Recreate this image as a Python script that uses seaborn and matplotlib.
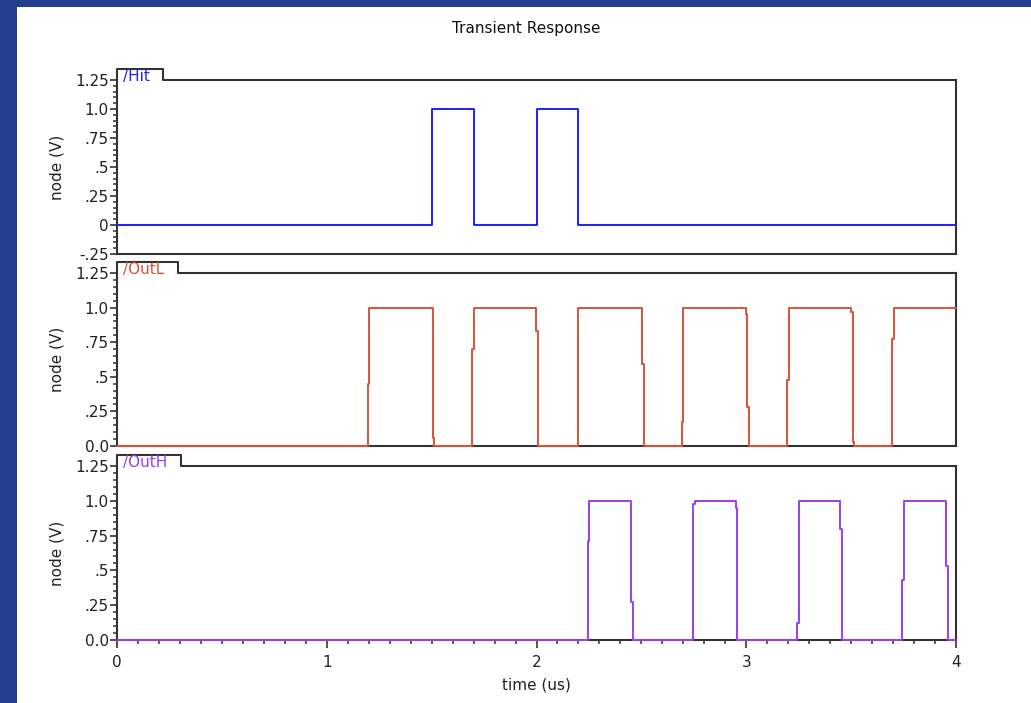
import numpy as np
import pandas as pd
import matplotlib
matplotlib.use("Agg")
import matplotlib.pyplot as plt
import seaborn as sns
from matplotlib.patches import Rectangle
from matplotlib.ticker import MultipleLocator, FixedLocator

# Signal data (time in us, voltage in V)
hit_t = [0.0, 1.5, 1.5, 1.7, 1.7, 2.0, 2.0, 2.2, 2.2, 4.0]
hit_v = [0.0, 0.0, 1.0, 1.0, 0.0, 0.0, 1.0, 1.0, 0.0, 0.0]

outl_t = [0.0, 1.195, 1.195, 1.203, 1.203, 1.505, 1.505, 1.513, 1.513,
          1.694, 1.694, 1.703, 1.703, 1.998, 1.998, 2.006, 2.006,
          2.196, 2.196, 2.503, 2.503, 2.511, 2.511,
          2.692, 2.692, 2.700, 2.700, 2.999, 2.999, 3.005, 3.005, 3.013, 3.013,
          3.194, 3.194, 3.204, 3.204, 3.499, 3.499, 3.507, 3.507, 3.515, 3.515,
          3.695, 3.695, 3.704, 3.704, 4.0]
outl_v = [0.0, 0.0, 0.45, 0.45, 1.0, 1.0, 0.055, 0.055, 0.0,
          0.0, 0.70, 0.70, 1.0, 1.0, 0.83, 0.83, 0.0,
          0.0, 1.0, 1.0, 0.595, 0.595, 0.0,
          0.0, 0.175, 0.175, 1.0, 1.0, 0.955, 0.955, 0.28, 0.28, 0.0,
          0.0, 0.475, 0.475, 1.0, 1.0, 0.965, 0.965, 0.03, 0.03, 0.0,
          0.0, 0.775, 0.775, 1.0, 1.0]

outh_t = [0.0, 2.244, 2.244, 2.252, 2.252, 2.452, 2.452, 2.462, 2.462,
          2.748, 2.748, 2.757, 2.757, 2.950, 2.950, 2.956, 2.956,
          3.242, 3.242, 3.250, 3.250, 3.449, 3.449, 3.458, 3.458,
          3.744, 3.744, 3.752, 3.752, 3.952, 3.952, 3.960, 3.960, 4.0]
outh_v = [0.0, 0.0, 0.71, 0.71, 1.0, 1.0, 0.27, 0.27, 0.0,
          0.0, 0.98, 0.98, 1.0, 1.0, 0.945, 0.945, 0.0,
          0.0, 0.125, 0.125, 1.0, 1.0, 0.80, 0.80, 0.0,
          0.0, 0.43, 0.43, 1.0, 1.0, 0.535, 0.535, 0.0, 0.0]

signal_names = ["/Hit", "/OutL", "/OutH"]
signal_colors = ["#1f1fff", "#d6543a", "#9b3ff0"]

ytick_vals_top = [-0.25, 0.0, 0.25, 0.5, 0.75, 1.0, 1.25]
ytick_lbls_top = ["-.25", "0", ".25", ".5", ".75", "1.0", "1.25"]
ytick_vals = [0.0, 0.25, 0.5, 0.75, 1.0, 1.25]
ytick_lbls = ["0.0", ".25", ".5", ".75", "1.0", "1.25"]
xtick_vals = [0, 1, 2, 3, 4]

signals = [
    pd.DataFrame({"time": hit_t, "volt": hit_v}),
    pd.DataFrame({"time": outl_t, "volt": outl_v}),
    pd.DataFrame({"time": outh_t, "volt": outh_v}),
]

sns.set_theme(style="ticks")
plt.rcParams["font.family"] = ["DejaVu Sans"]
plt.rcParams["font.size"] = 11

FS = 11
W, H = 1031, 703
fig = plt.figure(figsize=(W / 100, H / 100), dpi=100)
fig.patch.set_facecolor("#253f8f")
fig.add_artist(Rectangle((17 / W, 0), 1 - 17 / W, 1 - 7 / H,
                         transform=fig.transFigure, facecolor="white",
                         edgecolor="none", zorder=-1))

fig.text(526 / W, 1 - 29 / H, "Transient Response", ha="center",
         va="center", fontsize=FS, color="#111111")

# axes boxes in pixels: (top, bottom)
boxes = [(80, 254), (273, 446), (466, 640)]
left, right = 117, 956
spine_col = "#333333"
txt_col = "#222222"

axes = []
for i, (top, bot) in enumerate(boxes):
    ax = fig.add_axes([left / W, 1 - bot / H, (right - left) / W, (bot - top) / H])
    axes.append(ax)
    df = signals[i]
    sns.lineplot(data=df, x="time", y="volt", ax=ax, color=signal_colors[i],
                 estimator=None, sort=False, linewidth=1.4, zorder=3,
                 clip_on=False)

    ax.set_xlim(0, 4)
    if i == 0:
        ax.set_ylim(-0.25, 1.25)
        ax.yaxis.set_major_locator(FixedLocator(ytick_vals_top))
        ax.set_yticklabels(ytick_lbls_top)
    else:
        ax.set_ylim(0, 1.25)
        ax.yaxis.set_major_locator(FixedLocator(ytick_vals))
        ax.set_yticklabels(ytick_lbls)
    ax.yaxis.set_minor_locator(MultipleLocator(0.05))
    ax.tick_params(axis="y", which="major", direction="out", length=5,
                   width=1.2, color=spine_col, labelsize=FS, pad=1,
                   labelcolor=txt_col)
    ax.tick_params(axis="y", which="minor", direction="out", length=3,
                   width=1.1, color=spine_col)

    if i < 2:
        ax.set_xticks([])
        ax.set_xlabel("")
    else:
        ax.set_xticks(xtick_vals)
        ax.xaxis.set_minor_locator(MultipleLocator(0.1))
        ax.tick_params(axis="x", which="major", direction="out", length=6,
                       width=1.2, color=spine_col, labelsize=FS, pad=5,
                       labelcolor=txt_col)
        ax.tick_params(axis="x", which="minor", direction="out", length=3,
                       width=1.1, color=spine_col)
        ax.set_xlabel("time (us)", fontsize=FS, color=txt_col)
        ax.xaxis.set_label_coords(0.5, -(678 - bot) / (bot - top))

    ax.set_ylabel("node (V)", fontsize=FS, color=txt_col)
    ax.yaxis.set_label_coords(-(left - 65) / (right - left), 0.5)

    for side in ["left", "right", "bottom"]:
        ax.spines[side].set_visible(True)
        ax.spines[side].set_color(spine_col)
        ax.spines[side].set_linewidth(1.5)
        ax.spines[side].set_zorder(2)
    ax.spines["top"].set_visible(False)
    ax.set_facecolor("white")
    ax.grid(False)

    # tab label on top-left of each panel
    ax.annotate(signal_names[i], xy=(0, 1), xycoords="axes fraction",
                xytext=(4, -3), textcoords="offset points", va="bottom",
                ha="left", fontsize=FS, color=signal_colors[i])

fig.canvas.draw()
renderer = fig.canvas.get_renderer()
for i, ax in enumerate(axes):
    top, bot = boxes[i]
    ph = bot - top
    txt = ax.texts[-1]
    bb = txt.get_window_extent(renderer)
    w = (bb.x1 + 14 - ax.bbox.x0) / ax.bbox.width
    h = 11 / ph
    ax.plot([0, 0, w, w, 1], [1, 1 + h, 1 + h, 1, 1], transform=ax.transAxes,
            color=spine_col, lw=1.5, clip_on=False, zorder=2)

fig.savefig("out.png", dpi=100, facecolor=fig.get_facecolor())
